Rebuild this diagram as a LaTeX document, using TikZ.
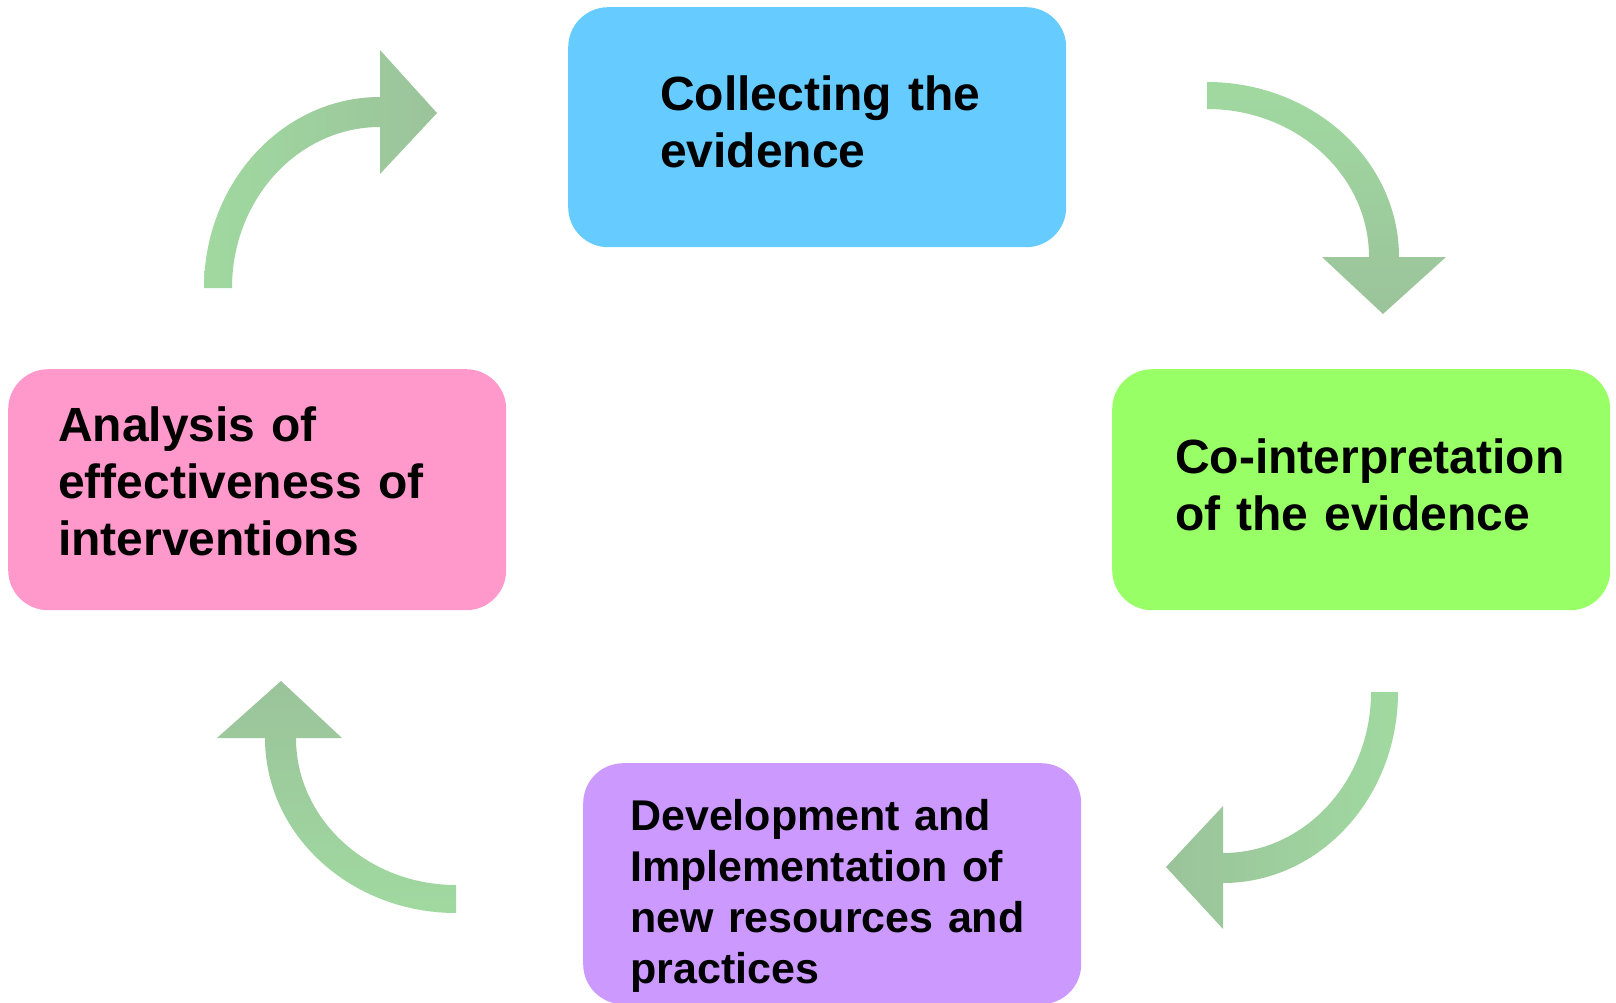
\documentclass[tikz,border=0pt]{standalone}
\usepackage{fontspec}
\setmainfont{Liberation Sans}
\definecolor{boxblue}{RGB}{102,204,255}
\definecolor{boxgreen}{RGB}{153,255,102}
\definecolor{boxpink}{RGB}{255,153,204}
\definecolor{boxpurple}{RGB}{204,153,255}
\definecolor{arrlight}{RGB}{160,217,160}
\definecolor{arrdark}{RGB}{155,195,155}
\begin{document}
\begin{tikzpicture}[x=1pt,y=-1pt,
  stagebox/.style={draw=none, rounded corners=40pt, inner sep=0pt, anchor=north west,
    minimum width=498pt, minimum height=241pt},
  bigtext/.style={inner sep=0pt, anchor=base west, text width=480pt, align=left,
    font=\fontsize{48}{57}\selectfont\bfseries},
  smalltext/.style={inner sep=0pt, anchor=base west, text width=440pt, align=left,
    font=\fontsize{43}{51}\selectfont\bfseries}]
\useasboundingbox (0,0) rectangle (1616,1003);
\clip (0,0) rectangle (1616,1003);
% boxes
\node[stagebox, fill=boxblue, minimum height=240pt] (collect) at (568,7) {};
\node[stagebox, fill=boxgreen] (cointerp) at (1112,369) {};
\node[stagebox, fill=boxpink] (analysis) at (8,369) {};
\node[stagebox, fill=boxpurple] (develop) at (583,763) {};
% texts
\node[bigtext] (collecttext) at (660,111) {Collecting the\\evidence};
\node[bigtext] (cointerptext) at (1175,473) {Co-interpretation\\of the evidence};
\node[bigtext] (analysistext) at (58,441) {Analysis of\\effectiveness of\\interventions};
\node[smalltext] (developtext) at (630,830) {Development and\\Implementation of\\new resources and\\practices};
% arrows
\shade[left color=arrlight, right color=arrdark]
  (204,288) arc[start angle=180, end angle=270, x radius=176, y radius=191]
  -- (380,50) -- (437,113) -- (380,174) -- (380,127)
  arc[start angle=270, end angle=180, x radius=148, y radius=161] -- cycle;
\shade[top color=arrlight, bottom color=arrdark]
  (1207,82) arc[start angle=270, end angle=360, x radius=192, y radius=175]
  -- (1446,257) -- (1383,314) -- (1322,257) -- (1369,257)
  arc[start angle=360, end angle=270, x radius=162, y radius=148] -- cycle;
\shade[left color=arrdark, right color=arrlight]
  (1398,692) arc[start angle=0, end angle=90, x radius=175, y radius=191]
  -- (1223,929) -- (1166,867) -- (1223,806) -- (1223,853)
  arc[start angle=90, end angle=0, x radius=148, y radius=161] -- cycle;
\shade[top color=arrdark, bottom color=arrlight]
  (456,913) arc[start angle=90, end angle=180, x radius=191, y radius=175]
  -- (217,738) -- (281,681) -- (342,738) -- (296,738)
  arc[start angle=180, end angle=90, x radius=160, y radius=147] -- cycle;
\end{tikzpicture}
\end{document}
